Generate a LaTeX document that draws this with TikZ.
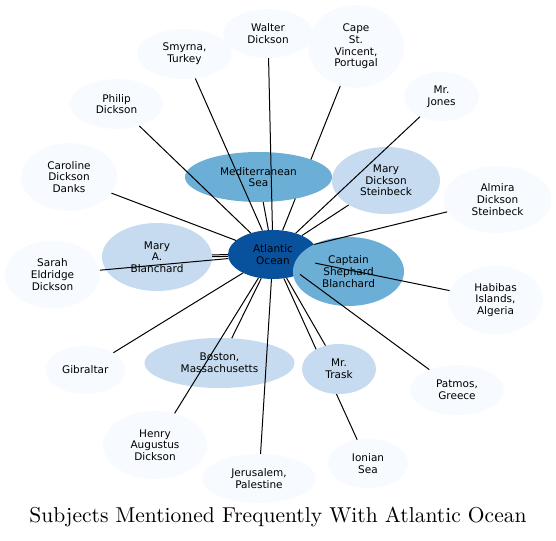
\documentclass[tikz,border=0pt]{standalone}
\usepackage{fontspec}
\usepackage{graphicx}
\usetikzlibrary{shapes.geometric}
\newfontfamily\nodefont{DejaVu Sans}
\definecolor{cdark}{HTML}{08519C}
\definecolor{cmid}{HTML}{6BAED6}
\definecolor{clight}{HTML}{C6DBEF}
\definecolor{cpale}{HTML}{F7FBFF}
\pgfdeclarelayer{bg}
\pgfsetlayers{bg,main}
\tikzset{
  subj/.style={ellipse, inner sep=0pt, align=center, text=black,
    font=\nodefont\fontsize{10.5}{11.7}\selectfont},
  pale/.style={subj, fill=cpale},
  lite/.style={subj, fill=clight},
  mid/.style={subj, fill=cmid},
  dark/.style={subj, fill=cdark},
  link/.style={draw=black, line width=1pt},
}
\begin{document}
\begin{tikzpicture}[x=1pt, y=-1pt]
\useasboundingbox (0,0) rectangle (556,540);
% nodes
\node[pale, minimum width=90pt, minimum height=49pt] (wal) at (268,33.5) {Walter\\Dickson};
\node[pale, minimum width=95pt, minimum height=50pt] (smy) at (184.5,54) {Smyrna,\\Turkey};
\node[pale, minimum width=93pt, minimum height=50pt] (phi) at (116.5,104) {Philip\\Dickson};
\node[pale, minimum width=96pt, minimum height=68pt] (car) at (69,177) {Caroline\\Dickson\\Danks};
\node[pale, minimum width=96pt, minimum height=83pt] (cape) at (356,46.5) {Cape\\St.\\Vincent,\\Portugal};
\node[pale, minimum width=75pt, minimum height=49pt] (jon) at (441.5,96.5) {Mr.\\Jones};
\node[pale, minimum width=108pt, minimum height=67pt] (alm) at (497.5,199.5) {Almira\\Dickson\\Steinbeck};
\node[pale, minimum width=95pt, minimum height=68pt] (sar) at (52.5,274.5) {Sarah\\Eldridge\\Dickson};
\node[pale, minimum width=95pt, minimum height=68pt] (hab) at (495.5,300) {Habibas\\Islands,\\Algeria};
\node[pale, minimum width=80pt, minimum height=48pt] (gib) at (85.3,370) {Gibraltar};
\node[pale, minimum width=94pt, minimum height=50pt] (pat) at (457,390) {Patmos,\\Greece};
\node[pale, minimum width=104pt, minimum height=68pt] (hen) at (155,445) {Henry\\Augustus\\Dickson};
\node[pale, minimum width=114pt, minimum height=49pt] (jer) at (259,478.5) {Jerusalem,\\Palestine};
\node[pale, minimum width=80pt, minimum height=49pt] (ion) at (368,463.5) {Ionian\\Sea};
\node[mid, minimum width=147pt, minimum height=50pt] (med) at (258.5,177) {Mediterranean\\Sea};
\node[lite, minimum width=108pt, minimum height=67pt] (mds) at (386,180.5) {Mary\\Dickson\\Steinbeck};
\node[lite, minimum width=110pt, minimum height=68pt] (mab) at (157,257) {Mary\\A.\\Blanchard};
\node[lite, minimum width=150pt, minimum height=50pt] (bos) at (219.5,363) {Boston,\\Massachusetts};
\node[lite, minimum width=74pt, minimum height=50pt] (tra) at (339,369) {Mr.\\Trask};
\node[dark, minimum width=90pt, minimum height=49pt] (atl) at (273,254.5) {Atlantic\\Ocean};
\node[mid, minimum width=111pt, minimum height=69pt] (csb) at (348.5,271.5) {Captain\\Shephard\\Blanchard};
\node (title) at (278,517) {\resizebox{497pt}{!}{\fontsize{10}{12}\selectfont Subjects Mentioned Frequently With Atlantic Ocean}};
% connectors hidden under other nodes
\begin{pgfonlayer}{bg}
\draw[link] (atl) -- (cape);
\draw[link] (atl) -- (ion);
\draw[link] (atl) -- (csb);
\end{pgfonlayer}
% connectors on top
\draw[link] (atl) -- (wal);
\draw[link] (atl) -- (smy);
\draw[link] (atl) -- (phi);
\draw[link] (atl) -- (car);
\draw[link] (atl) -- (med);
\draw[link] (atl) -- (jon);
\draw[link] (atl) -- (mds);
\draw[link] (atl) -- (alm);
\draw[link, transform canvas={yshift=-0.9pt}] (atl) -- (mab);
\draw[link, transform canvas={yshift=0.9pt}] (atl) -- (mab);
\draw[link] (atl) -- (sar);
\draw[link] (atl) -- (hab);
\draw[link] (atl) -- (pat);
\draw[link] (atl) -- (gib);
\draw[link] (atl) -- (bos);
\draw[link] (atl) -- (hen);
\draw[link] (atl) -- (jer);
\draw[link] (atl) -- (tra);
\end{tikzpicture}
\end{document}
